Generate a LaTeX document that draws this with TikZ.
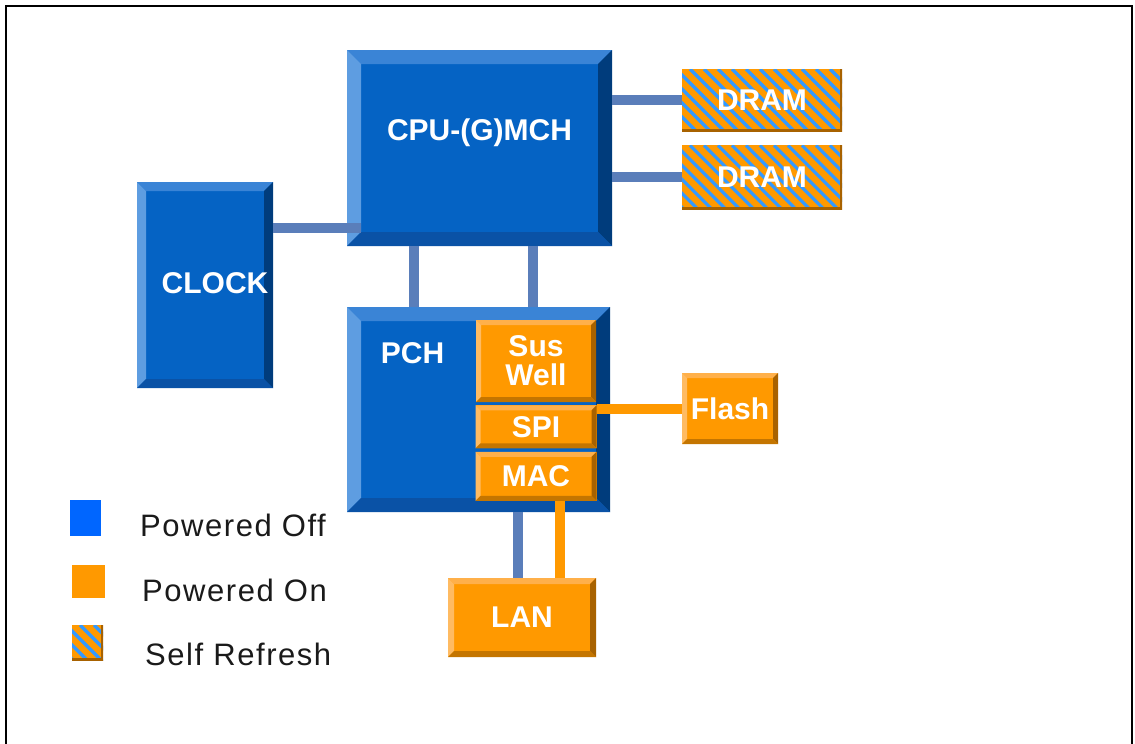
\documentclass[tikz,border=0pt]{standalone}
\usepackage{fontspec}
\setmainfont{Liberation Sans}
\usetikzlibrary{positioning}

\definecolor{faceblue}{HTML}{0563C4}
\definecolor{blutop}{HTML}{3A84D6}
\definecolor{bluleft}{HTML}{5E9DE1}
\definecolor{bluright}{HTML}{003C7C}
\definecolor{blubot}{HTML}{0A52A6}
\definecolor{faceorange}{HTML}{FF9900}
\definecolor{orgtop}{HTML}{FFB04A}
\definecolor{orgleft}{HTML}{FFBB62}
\definecolor{orgright}{HTML}{A86200}
\definecolor{orgbot}{HTML}{C47500}
\definecolor{busblue}{HTML}{5A7EBA}
\definecolor{hatchblue}{HTML}{3399FF}
\definecolor{keyblue}{HTML}{0066FF}
\definecolor{keytext}{HTML}{1A1A1A}

\tikzset{
  bevelled/.style n args={5}{path picture={
      \coordinate (bnw) at (path picture bounding box.north west);
      \coordinate (bne) at (path picture bounding box.north east);
      \coordinate (bsw) at (path picture bounding box.south west);
      \coordinate (bse) at (path picture bounding box.south east);
      \fill[#2] (bnw) -- (bne) -- ([xshift=-#1,yshift=-#1]bne) -- ([xshift=#1,yshift=-#1]bnw) -- cycle;
      \fill[#3] (bnw) -- (bsw) -- ([xshift=#1,yshift=#1]bsw) -- ([xshift=#1,yshift=-#1]bnw) -- cycle;
      \fill[#4] (bne) -- (bse) -- ([xshift=-#1,yshift=#1]bse) -- ([xshift=-#1,yshift=-#1]bne) -- cycle;
      \fill[#5] (bsw) -- (bse) -- ([xshift=-#1,yshift=#1]bse) -- ([xshift=#1,yshift=#1]bsw) -- cycle;
    }},
  hatched/.style={fill=faceorange, path picture={
      \foreach \k in {-90,-76,...,170}
        \draw[hatchblue,line width=3.3pt] ([xshift=\k pt]path picture bounding box.north west) -- ++(90pt,-90pt);
      \draw[orgright,line width=5pt] (path picture bounding box.north east) -- (path picture bounding box.south east)
        -- (path picture bounding box.south west);
    }}
}

\begin{document}
\begin{tikzpicture}[x=1pt,y=-1pt]
    \tikzstyle{box}=[rectangle,inner sep=0pt,text=white,font=\fontsize{30}{29}\selectfont\bfseries]
    \tikzstyle{lbl}=[text=white,font=\fontsize{30}{29}\selectfont\bfseries]
    \tikzset{bluebox/.style={box,fill=faceblue,bevelled={#1}{blutop}{bluleft}{bluright}{blubot}},
      bluebox/.default=14pt}
    \tikzset{orgbox/.style={box,fill=faceorange,bevelled={#1}{orgtop}{orgleft}{orgright}{orgbot}},
      orgbox/.default=5pt}
    \tikzstyle{hatchbox}=[box,hatched]
    \tikzstyle{bus}=[busblue,line width=10pt]
    \tikzstyle{sbus}=[faceorange,line width=10pt]
    \tikzstyle{keysq}=[rectangle,inner sep=0pt]
    \tikzstyle{keytxt}=[anchor=west,inner sep=0pt,text=keytext,font=\fontsize{31}{36}\selectfont\addfontfeature{LetterSpace=5}]

    \useasboundingbox (0,0) rectangle (1135,744);
    \draw[line width=2pt] (6,744) -- (6,6) -- (1132,6) -- (1132,744);

    % processor side
    \node[bluebox,minimum width=265pt,minimum height=196pt,
      label={[lbl,yshift=15pt]center:CPU-(G)MCH}](cpu) at (479.5,148) {};
    \node[hatchbox,minimum width=160pt,minimum height=62pt](dram1) at (762,100) {DRAM};
    \node[hatchbox,minimum width=160pt,minimum height=64pt,below=14pt of dram1](dram2) {DRAM};
    \node[bluebox=9pt,minimum width=136pt,minimum height=206pt,
      label={[lbl,xshift=10pt,yshift=2pt]center:CLOCK}](clock) at (205,285) {};

    % platform controller hub
    \node[bluebox,minimum width=263pt,minimum height=205pt,
      label={[lbl,xshift=-66pt,yshift=56pt]center:PCH}](pch) at (478.5,409.5) {};
    \node[orgbox,minimum width=120pt,minimum height=82pt,align=center](sus) at (536,361) {Sus\\Well};
    \node[orgbox,minimum width=121pt,minimum height=43pt,below=3pt of sus](spi) {SPI};
    \node[orgbox,minimum width=121pt,minimum height=49pt,below=3pt of spi](mac) {MAC};
    \node[orgbox,minimum width=96pt,minimum height=71pt](flash) at (730,408.5) {Flash};
    \node[orgbox=6pt,minimum width=148pt,minimum height=79pt](lan) at (522,617.5) {LAN};

    % links
    \draw[bus] (dram1.west) -- (dram1.west -| cpu.east);
    \draw[bus] (dram2.west) -- (dram2.west -| cpu.east);
    \coordinate (clk) at ([yshift=-46pt]clock.north east);
    \draw[bus] (clk) -- (clk -| cpu.west) -- ++(14,0);
    \coordinate (dmi1) at ([xshift=67pt]cpu.south west);
    \coordinate (dmi2) at ([xshift=186pt]cpu.south west);
    \draw[bus] (dmi1) -- (dmi1 |- pch.north);
    \draw[bus] (dmi2) -- (dmi2 |- pch.north);
    \draw[sbus] (flash.west) -- (flash.west -| spi.east);
    \coordinate (lan1) at ([xshift=70pt]lan.north west);
    \coordinate (lan2) at ([xshift=112pt]lan.north west);
    \draw[bus] (lan1) -- (lan1 |- pch.south);
    \draw[sbus] (lan2) -- (lan2 |- mac.south);

    % legend
    \node[keysq,fill=keyblue,minimum width=31pt,minimum height=36pt](keyoff) at (85.5,518) {};
    \node[keysq,fill=faceorange,minimum size=33pt](keyon) at (88.5,581.5) {};
    \node[keysq,hatched,minimum width=31pt,minimum height=35pt](keyself) at (87.5,642.5) {};
    \node[keytxt](offtxt) at (140,525) {Powered Off};
    \node[keytxt](ontxt) at (142,590) {Powered On};
    \node[keytxt](selftxt) at (145,654) {Self Refresh};
\end{tikzpicture}
\end{document}
